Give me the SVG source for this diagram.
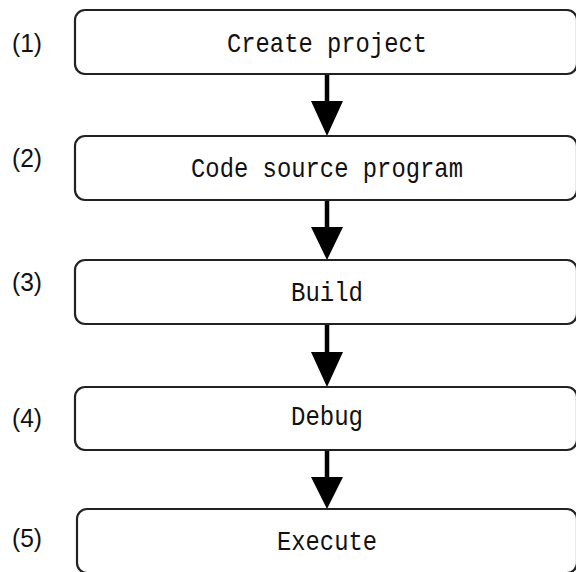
<svg xmlns="http://www.w3.org/2000/svg" width="576" height="572" viewBox="0 0 576 572">
<style>
.box{fill:#fff;stroke:#222;stroke-width:2.2}
.t{font-family:"Liberation Mono",monospace;font-size:28px;fill:#111;text-anchor:middle}
.n{font-family:"Liberation Sans",Arial,sans-serif;font-size:25px;fill:#111}
.sh{stroke:#000;stroke-width:4.5;fill:none}
.hd{fill:#000}
</style>
<rect width="576" height="572" fill="#fff"/>
<g id="connectors">
<line class="sh" x1="327" y1="74" x2="327" y2="102"/><polygon class="hd" points="311,101 343,101 327,136"/>
<line class="sh" x1="327" y1="200" x2="327" y2="228"/><polygon class="hd" points="311,227 343,227 327,260"/>
<line class="sh" x1="327" y1="324" x2="327" y2="353"/><polygon class="hd" points="311,352 343,352 327,387"/>
<line class="sh" x1="327" y1="450" x2="327" y2="478"/><polygon class="hd" points="311,477 343,477 327,509"/>
</g>
<g id="n1"><rect class="box" x="75" y="10" width="502" height="64" rx="10"/><text class="t" x="327" y="52" textLength="200" lengthAdjust="spacingAndGlyphs">Create project</text><text class="n" x="12" y="52" textLength="30" lengthAdjust="spacingAndGlyphs">(1)</text></g>
<g id="n2"><rect class="box" x="75" y="136" width="502" height="64" rx="10"/><text class="t" x="327" y="177" textLength="272" lengthAdjust="spacingAndGlyphs">Code source program</text><text class="n" x="12" y="167" textLength="30" lengthAdjust="spacingAndGlyphs">(2)</text></g>
<g id="n3"><rect class="box" x="75" y="260" width="502" height="64" rx="10"/><text class="t" x="327" y="301" textLength="72" lengthAdjust="spacingAndGlyphs">Build</text><text class="n" x="12" y="291" textLength="30" lengthAdjust="spacingAndGlyphs">(3)</text></g>
<g id="n4"><rect class="box" x="75" y="387" width="502" height="63" rx="10"/><text class="t" x="327" y="425" textLength="72" lengthAdjust="spacingAndGlyphs">Debug</text><text class="n" x="12" y="427" textLength="30" lengthAdjust="spacingAndGlyphs">(4)</text></g>
<g id="n5"><rect class="box" x="77" y="509" width="500" height="64" rx="10"/><text class="t" x="327" y="550" textLength="100" lengthAdjust="spacingAndGlyphs">Execute</text><text class="n" x="12" y="547" textLength="30" lengthAdjust="spacingAndGlyphs">(5)</text></g>
</svg>
